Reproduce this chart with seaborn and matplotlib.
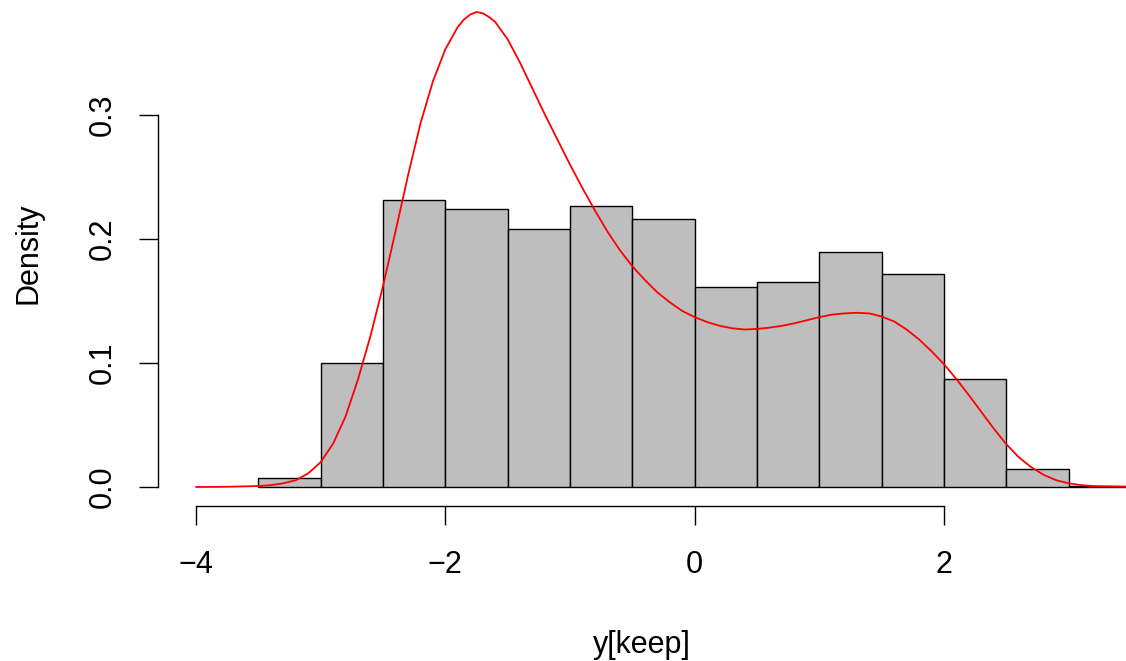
import matplotlib
matplotlib.use("Agg")
import matplotlib.pyplot as plt
import numpy as np
import seaborn as sns

# histogram bins (density scale)
bin_edges = [-3.5, -3.0, -2.5, -2.0, -1.5, -1.0, -0.5, 0.0, 0.5, 1.0, 1.5, 2.0, 2.5, 3.0, 3.5]
bin_density = [0.007, 0.100, 0.2315, 0.224, 0.208, 0.2265, 0.216, 0.161, 0.165, 0.1895, 0.1715, 0.087, 0.0145, 0.001]

# red density curve
curve_x = [-4.0, -3.75, -3.5, -3.4, -3.3, -3.2, -3.1, -3.0, -2.9, -2.8, -2.7, -2.6, -2.5, -2.4, -2.3,
           -2.2, -2.1, -2.0, -1.9, -1.85, -1.8, -1.75, -1.7, -1.65, -1.6, -1.5, -1.4, -1.3, -1.2, -1.1,
           -1.0, -0.9, -0.8, -0.7, -0.6, -0.5, -0.4, -0.3, -0.2, -0.1, 0.0, 0.1, 0.2, 0.3, 0.4, 0.5,
           0.6, 0.7, 0.8, 0.9, 1.0, 1.1, 1.2, 1.3, 1.4, 1.5, 1.6, 1.7, 1.8, 1.9, 2.0, 2.1, 2.2, 2.3,
           2.4, 2.5, 2.6, 2.7, 2.8, 2.9, 3.0, 3.1, 3.2, 3.4, 3.6]
curve_y = [0.0, 0.0002, 0.0008, 0.0015, 0.003, 0.0055, 0.011, 0.020, 0.035, 0.057, 0.087, 0.122, 0.162, 0.206, 0.251,
           0.293, 0.327, 0.353, 0.371, 0.377, 0.381, 0.383, 0.382, 0.379, 0.375, 0.361, 0.342, 0.321, 0.300, 0.280,
           0.260, 0.241, 0.223, 0.206, 0.191, 0.178, 0.167, 0.157, 0.149, 0.142, 0.137, 0.133, 0.130, 0.128, 0.127, 0.1275,
           0.1285, 0.130, 0.132, 0.1345, 0.137, 0.139, 0.140, 0.1405, 0.140, 0.1375, 0.1335, 0.127, 0.119, 0.1095, 0.099, 0.087, 0.074, 0.0605,
           0.047, 0.0345, 0.024, 0.016, 0.0098, 0.0055, 0.003, 0.0015, 0.0008, 0.0003, 0.0001]

x_ticks = [-4, -2, 0, 2]
y_ticks = [0.0, 0.1, 0.2, 0.3]

sns.set_style("white")
plt.rcParams["font.family"] = ["Liberation Sans", "DejaVu Sans"]
plt.rcParams["text.color"] = "black"
plt.rcParams["axes.labelcolor"] = "black"
plt.rcParams["xtick.color"] = "black"
plt.rcParams["ytick.color"] = "black"

fig = plt.figure(figsize=(11.26, 6.61), dpi=100)
ax = fig.add_axes([157.5 / 1126, 155 / 661, 1 - 157.5 / 1126, 506 / 661])

centers = [(a + b) / 2 for a, b in zip(bin_edges[:-1], bin_edges[1:])]
sns.histplot(x=centers, weights=bin_density, bins=bin_edges, stat="count",
             color="#BEBEBE", edgecolor="black", linewidth=1.0, alpha=1.0, ax=ax)
sns.lineplot(x=curve_x, y=curve_y, color="red", linewidth=1.3, ax=ax)

ax.set_xlim(-4.309, 3.46)
ax.set_ylim(-0.0153, 0.3927)

for s in ["top", "right"]:
    ax.spines[s].set_visible(False)
ax.spines["left"].set_bounds(0, 0.3)
ax.spines["bottom"].set_bounds(-4, 2)
for s in ["left", "bottom"]:
    ax.spines[s].set_linewidth(1.0)
    ax.spines[s].set_color("black")

ax.set_xticks(x_ticks)
ax.set_xticklabels([f"{v:d}".replace("-", "\u2212") for v in x_ticks])
ax.set_yticks(y_ticks)
ax.set_yticklabels([f"{v:.1f}" for v in y_ticks], rotation=90, va="center")
ax.tick_params(axis="both", direction="out", length=13.5, width=1.0, color="black",
               labelsize=22, bottom=True, left=True)
ax.tick_params(axis="x", pad=18)
ax.tick_params(axis="y", pad=15)

ax.set_xlabel("y[keep]", fontsize=22, labelpad=36)
ax.set_ylabel("Density", fontsize=22, labelpad=32)

fig.savefig("out.png", dpi=100)
